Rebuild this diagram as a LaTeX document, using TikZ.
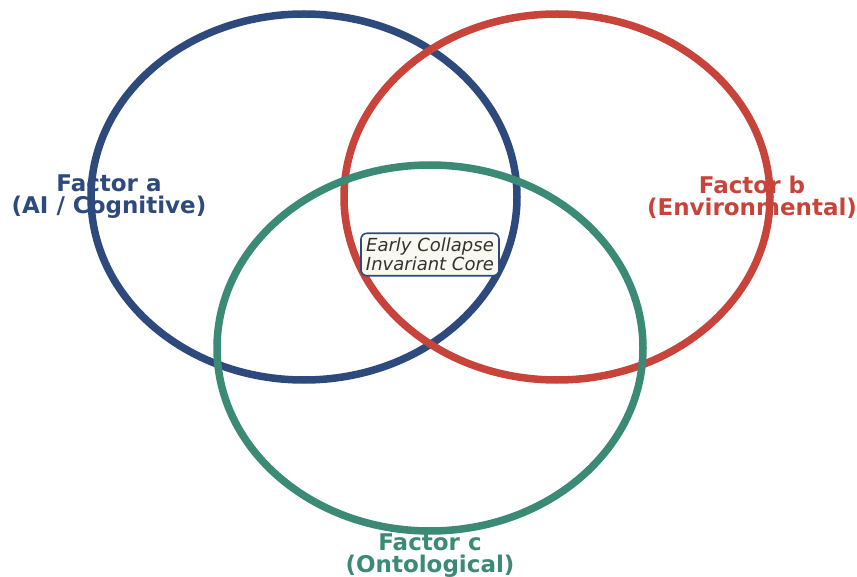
\documentclass[tikz,border=0pt]{standalone}
\usepackage{fontspec}
\setmainfont{DejaVu Sans}
\definecolor{cblue}{HTML}{2E4A7D}
\definecolor{cred}{HTML}{C8443A}
\definecolor{cgreen}{HTML}{3B8A75}
\definecolor{cfill}{HTML}{FBFAF2}
\begin{document}
\begin{tikzpicture}[x=1pt,y=-1pt,
  ring/.style={line width=7.5pt},
  flabel/.style={font=\fontsize{23}{22}\selectfont\bfseries, align=center, inner sep=0pt},
  corebox/.style={draw=cblue, line width=1.6pt, rounded corners=6pt, fill=cfill, align=center,
    font=\fontsize{18}{18.5}\selectfont\itshape, text=black!80, inner xsep=5pt, inner ysep=5pt}]
\useasboundingbox (0,0) rectangle (857,577);
\draw[ring, cblue] (304,197) ellipse [x radius=213, y radius=183];
\draw[ring, cred] (557,197) ellipse [x radius=213, y radius=183];
\draw[ring, cgreen] (430,348) ellipse [x radius=213, y radius=183];
\node[flabel, text=cblue] (fa) at (109,197) {Factor a\\(AI / Cognitive)};
\node[flabel, text=cred] (fb) at (752,197) {Factor b\\(Environmental)};
\node[flabel, text=cgreen] (fc) at (430,556) {Factor c\\(Ontological)};
\node[corebox] (core) at (430,254.5) {Early Collapse\\Invariant Core};
\end{tikzpicture}
\end{document}
